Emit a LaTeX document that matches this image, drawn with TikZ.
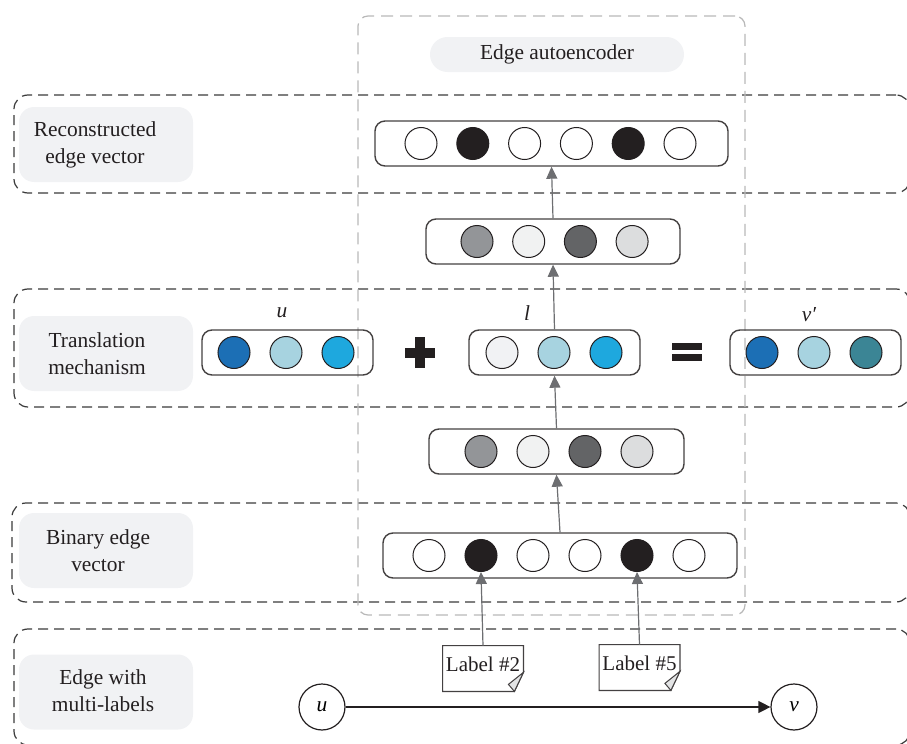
\documentclass[tikz,border=0pt]{standalone}
\usepackage{fontspec}
\setmainfont{Liberation Serif}
\usetikzlibrary{arrows.meta,positioning,calc}
\definecolor{ink}{HTML}{231F20}
\definecolor{rowline}{HTML}{3A3A3A}
\definecolor{frameline}{HTML}{B8B8B8}
\definecolor{pillfill}{HTML}{F1F2F4}
\definecolor{arrowgray}{HTML}{6D6E71}
\definecolor{hidA}{HTML}{939598}
\definecolor{hidB}{HTML}{F1F2F2}
\definecolor{hidC}{HTML}{636466}
\definecolor{hidD}{HTML}{DCDDDE}
\definecolor{blueA}{HTML}{1C6FB5}
\definecolor{blueB}{HTML}{A7D3E0}
\definecolor{blueC}{HTML}{1EA8DE}
\definecolor{tealA}{HTML}{3B8595}
\definecolor{foldfill}{HTML}{E3E4E5}
\tikzset{
    % Dashed row frame
    rowframe/.style={
        rectangle,
        rounded corners=7pt,
        draw=rowline,
        dash pattern=on 5pt off 3pt,
        line width=0.6pt
    },
    % Autoencoder frame
    aeframe/.style={
        rectangle,
        rounded corners=5pt,
        draw=frameline,
        dash pattern=on 6pt off 3.5pt,
        line width=0.6pt
    },
    % Grey label pill
    pill/.style={
        rectangle,
        rounded corners=7.5pt,
        fill=pillfill,
        minimum width=87pt,
        minimum height=37.5pt
    },
    % Label text
    pill text/.style={
        font=\fontsize{10.7}{13.5}\selectfont,
        text=ink,
        align=center
    },
    % Vector box
    vecbox/.style={
        rectangle,
        rounded corners=5pt,
        draw=ink!85,
        line width=0.7pt,
        minimum height=22.5pt
    },
    % Vector unit
    unit/.style={
        circle,
        inner sep=0pt,
        minimum size=16pt,
        draw=ink,
        line width=0.5pt,
        fill=#1
    },
    % Arrow styles
    flow/.style={
        -{Triangle[length=6pt, width=5.5pt]},
        line width=0.6pt,
        color=arrowgray
    },
    edgeflow/.style={
        -{Triangle[length=6pt, width=6pt]},
        line width=0.6pt,
        color=ink
    },
    % Vertex
    vertex/.style={
        circle,
        draw=ink,
        line width=0.6pt,
        minimum size=23pt,
        inner sep=0pt,
        font=\fontsize{10.7}{13}\selectfont\itshape
    },
    % Symbol label
    sym/.style={
        font=\fontsize{10.7}{13}\selectfont\itshape,
        text=ink
    },
    % Note text
    note/.style={
        minimum width=40pt,
        minimum height=22.5pt,
        inner sep=0pt,
        font=\fontsize{10.5}{12}\selectfont,
        text=ink
    }
}

\begin{document}
\begin{tikzpicture}[x=0.5pt, y=-0.5pt]
        \useasboundingbox (0,0) rectangle (907,744);
        \clip (0,0) rectangle (907,744);

        % Row frames
        \node[rowframe, minimum width=448pt, minimum height=49pt] (rowrec) at (462,144) {};
        \node[rowframe, minimum width=448pt, minimum height=59pt] (rowtra) at (462,348) {};
        \node[rowframe, minimum width=449pt, minimum height=49.5pt] (rowbin) at (461,552.5) {};
        \node[rowframe, minimum width=448pt, minimum height=58pt] (rowedg) at (462,687) {};

        % Autoencoder frame
        \node[aeframe, minimum width=193.5pt, minimum height=299.5pt] (ae) at (551.5,315.5) {};
        \node[pill, minimum width=127pt, minimum height=17.5pt, rounded corners=8.7pt] (aetitle) at (557,54.5) {};
        \node[pill text] (aetext) at (aetitle.center) {Edge autoencoder};

        % Row labels
        \node[pill] (recpill) at (106,144.5) {};
        \node[pill text] (rectext) at (95,145) {Reconstructed\\edge vector};
        \node[pill] (trapill) at (106,353.5) {};
        \node[pill text] (tratext) at (97,354) {Translation\\mechanism};
        \node[pill] (binpill) at (106,550.5) {};
        \node[pill text] (bintext) at (98,551) {Binary edge\\vector};
        \node[pill] (edgpill) at (106,692) {};
        \node[pill text] (edgtext) at (103,691) {Edge with\\multi-labels};

        % Reconstructed vector
        \node[vecbox, minimum width=176.5pt] (rec) at (551.5,143.5) {};
        \foreach \f [count=\i] in {white,ink,white,white,ink,white}
            \node[unit=\f] (rec\i) at ({421+51.8*(\i-1)},143.5) {};

        % Hidden layers
        \node[vecbox, minimum width=127pt] (hidup) at (553,241.5) {};
        \foreach \f [count=\i] in {hidA,hidB,hidC,hidD}
            \node[unit=\f] (hidup\i) at ({477+51.7*(\i-1)},241.5) {};
        \node[vecbox, minimum width=127.5pt] (hidlo) at (556.5,451.5) {};
        \foreach \f [count=\i] in {hidA,hidB,hidC,hidD}
            \node[unit=\f] (hidlo\i) at ({481+52*(\i-1)},451.5) {};

        % Binary vector
        \node[vecbox, minimum width=177pt] (bin) at (560,555.5) {};
        \foreach \f [count=\i] in {white,ink,white,white,ink,white}
            \node[unit=\f] (bin\i) at ({429+52*(\i-1)},555.5) {};

        % Translation u + l = v'
        \node[vecbox, minimum width=85.5pt] (uvec) at (287.5,352.5) {};
        \foreach \f [count=\i] in {blueA,blueB,blueC}
            \node[unit=\f] (uvec\i) at ({234+52*(\i-1)},352.5) {};
        \node[vecbox, minimum width=85.5pt] (lvec) at (554.5,352.5) {};
        \foreach \f [count=\i] in {pillfill,blueB,blueC}
            \node[unit=\f] (lvec\i) at ({502+52*(\i-1)},352.5) {};
        \node[vecbox, minimum width=85.5pt] (vvec) at (815.5,352.5) {};
        \foreach \f [count=\i] in {blueA,blueB,tealA}
            \node[unit=\f] (vvec\i) at ({762+52*(\i-1)},352.5) {};
        \node[sym] (ulab) at (282,313) {u};
        \node[sym] (llab) at (527,313) {l};
        \node[sym] (vlab) at (809,315) {v′};
        \fill[ink] (405,348) rectangle (435,358);
        \fill[ink] (415,337) rectangle (425,368);
        \fill[ink] (672,343) rectangle (702,350);
        \fill[ink] (672,354) rectangle (702,361);

        % Connections
        \draw[flow] (bin.north) -- (hidlo.south);
        \draw[flow] (hidlo.north) -- (lvec.south);
        \draw[flow] (lvec.north) -- (hidup.south);
        \draw[flow] (hidup.north) -- (rec.south);

        % Labels
        \node[note] (lab2) at (483,668.5) {};
        \node[note] (lab5) at (639.5,667.5) {};
        \foreach \n/\t in {lab2/Label \#2, lab5/Label \#5} {
            \draw[ink!85, line width=0.6pt, fill=white] (\n.north west) -- (\n.north east) -- ([yshift=9.5pt]\n.south east) -- ([xshift=-4.5pt]\n.south east) -- (\n.south west) -- cycle;
            \draw[ink!85, line width=0.5pt, fill=foldfill] ([yshift=9.5pt]\n.south east) -- ([xshift=-4.5pt]\n.south east) -- ([xshift=-7.5pt, yshift=3.5pt]\n.south east) -- cycle;
            \node[note, minimum height=0pt] (\n txt) at ([yshift=2pt]\n.center) {\t};
        }
        \draw[flow] (lab2.north) -- (bin2.south);
        \draw[flow] (lab5.north) -- (bin5.south);

        % Edge u -> v
        \node[vertex] (u) at (322,707) {u};
        \node[vertex] (v) at (794,707) {v};
        \draw[edgeflow] (u) -- (v);

    \end{tikzpicture}
\end{document}
